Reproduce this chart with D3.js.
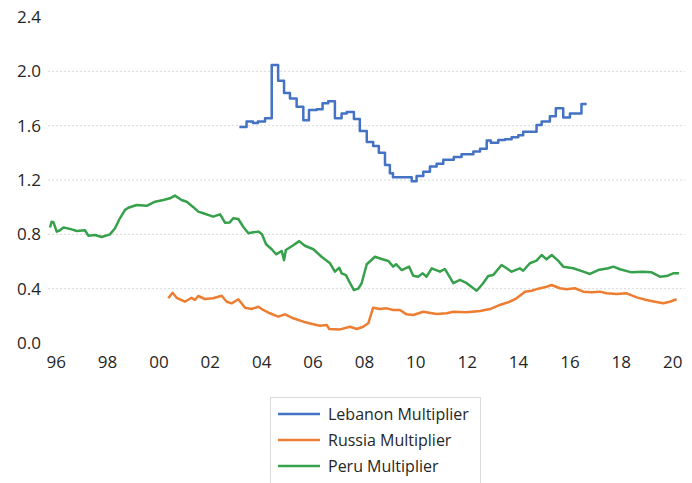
<!DOCTYPE html>
<html>
<head>
<meta charset="utf-8">
<script src="https://cdn.jsdelivr.net/npm/d3@7"></script>
<style>
  body { margin: 0; background: #fff; }
  svg { display: block; font-family: "Open Sans", sans-serif; }
</style>
</head>
<body>
<script>
// series data: [year (decimal), value]
const lebanon = [
  [2003.15, 1.59], [2003.43, 1.63], [2003.68, 1.62], [2003.87, 1.63], [2004.15, 1.655],
  [2004.41, 2.046], [2004.66, 1.93], [2004.89, 1.84], [2005.12, 1.80], [2005.38, 1.74],
  [2005.64, 1.64], [2005.86, 1.715], [2006.16, 1.72], [2006.39, 1.765], [2006.61, 1.78],
  [2006.87, 1.655], [2007.13, 1.69], [2007.33, 1.70], [2007.61, 1.65], [2007.84, 1.56],
  [2008.11, 1.48], [2008.36, 1.45], [2008.58, 1.40], [2008.82, 1.31], [2009.01, 1.25],
  [2009.13, 1.22], [2009.86, 1.19], [2010.05, 1.23], [2010.31, 1.26], [2010.57, 1.30],
  [2010.83, 1.32], [2011.09, 1.35], [2011.5, 1.37], [2011.8, 1.39], [2012.26, 1.41],
  [2012.52, 1.43], [2012.78, 1.49], [2012.94, 1.475], [2013.23, 1.495], [2013.49, 1.50],
  [2013.75, 1.514], [2014.01, 1.53], [2014.2, 1.556], [2014.72, 1.605], [2014.92, 1.63],
  [2015.24, 1.67], [2015.47, 1.728], [2015.76, 1.66], [2016.02, 1.69], [2016.47, 1.76],
  [2016.67, 1.76]
];

const russia = [
  [2000.38, 0.329], [2000.55, 0.37], [2000.71, 0.333], [2001.03, 0.304], [2001.29, 0.333],
  [2001.42, 0.317], [2001.55, 0.346], [2001.81, 0.324], [2002.13, 0.329], [2002.46, 0.348],
  [2002.66, 0.304], [2002.85, 0.292], [2003.11, 0.322], [2003.37, 0.26], [2003.63, 0.25],
  [2003.89, 0.267], [2004.08, 0.243], [2004.34, 0.219], [2004.66, 0.194], [2004.93, 0.211],
  [2005.25, 0.182], [2005.64, 0.157], [2006.03, 0.138], [2006.29, 0.127], [2006.55, 0.133],
  [2006.65, 0.103], [2007.07, 0.10], [2007.46, 0.12], [2007.72, 0.103], [2007.97, 0.12],
  [2008.17, 0.145], [2008.36, 0.26], [2008.62, 0.25], [2008.88, 0.255], [2009.14, 0.243],
  [2009.40, 0.243], [2009.66, 0.211], [2009.92, 0.206], [2010.31, 0.23], [2010.83, 0.213],
  [2011.22, 0.219], [2011.48, 0.23], [2012.00, 0.226], [2012.52, 0.236], [2012.91, 0.25],
  [2013.29, 0.28], [2013.68, 0.304], [2013.94, 0.329], [2014.27, 0.378], [2014.53, 0.385],
  [2014.79, 0.40], [2015.11, 0.414], [2015.31, 0.427], [2015.63, 0.403], [2015.89, 0.395],
  [2016.21, 0.403], [2016.54, 0.378], [2016.86, 0.373], [2017.19, 0.378], [2017.45, 0.366],
  [2017.84, 0.36], [2018.23, 0.366], [2018.62, 0.336], [2019.00, 0.317], [2019.33, 0.304],
  [2019.65, 0.292], [2019.91, 0.304], [2020.17, 0.322]
];

const peru = [
  [1995.78, 0.85], [1995.84, 0.893], [1995.91, 0.89], [1996.04, 0.82], [1996.17, 0.83],
  [1996.30, 0.85], [1996.56, 0.84], [1996.82, 0.825], [1997.14, 0.83], [1997.27, 0.79],
  [1997.53, 0.795], [1997.79, 0.78], [1998.11, 0.80], [1998.31, 0.845], [1998.50, 0.918],
  [1998.70, 0.98], [1998.83, 0.996], [1999.15, 1.016], [1999.54, 1.01], [1999.87, 1.04],
  [2000.19, 1.053], [2000.45, 1.065], [2000.64, 1.085], [2000.90, 1.053], [2001.10, 1.04],
  [2001.36, 1.00], [2001.55, 0.967], [2001.75, 0.955], [2002.13, 0.93], [2002.40, 0.947],
  [2002.59, 0.886], [2002.78, 0.888], [2002.91, 0.918], [2003.11, 0.913], [2003.30, 0.856],
  [2003.50, 0.808], [2003.69, 0.815], [2003.89, 0.82], [2004.03, 0.80], [2004.19, 0.727],
  [2004.41, 0.69], [2004.58, 0.653], [2004.80, 0.677], [2004.89, 0.61], [2004.96, 0.685],
  [2005.25, 0.72], [2005.48, 0.75], [2005.70, 0.716], [2006.03, 0.69], [2006.35, 0.635],
  [2006.68, 0.587], [2006.87, 0.525], [2007.04, 0.554], [2007.13, 0.513], [2007.30, 0.50],
  [2007.46, 0.44], [2007.61, 0.39], [2007.78, 0.40], [2007.91, 0.44], [2008.11, 0.58],
  [2008.43, 0.635], [2008.69, 0.618], [2008.95, 0.604], [2009.14, 0.562], [2009.25, 0.58],
  [2009.47, 0.537], [2009.76, 0.562], [2009.92, 0.495], [2010.11, 0.488], [2010.29, 0.513],
  [2010.44, 0.488], [2010.64, 0.55], [2010.96, 0.525], [2011.15, 0.545], [2011.48, 0.44],
  [2011.74, 0.464], [2012.00, 0.44], [2012.39, 0.385], [2012.64, 0.44], [2012.84, 0.493],
  [2013.03, 0.50], [2013.36, 0.574], [2013.75, 0.525], [2014.07, 0.55], [2014.20, 0.532],
  [2014.46, 0.587], [2014.72, 0.606], [2014.92, 0.648], [2015.11, 0.616], [2015.31, 0.648],
  [2015.56, 0.606], [2015.76, 0.562], [2016.15, 0.55], [2016.54, 0.525], [2016.80, 0.508],
  [2017.12, 0.537], [2017.51, 0.55], [2017.71, 0.562], [2017.97, 0.543], [2018.42, 0.52],
  [2018.87, 0.525], [2019.20, 0.52], [2019.52, 0.488], [2019.78, 0.493], [2020.04, 0.513],
  [2020.27, 0.513]
];

const xTickYears = [1996, 1998, 2000, 2002, 2004, 2006, 2008, 2010, 2012, 2014, 2016, 2018, 2020];
const xTickLabels = ["96", "98", "00", "02", "04", "06", "08", "10", "12", "14", "16", "18", "20"];
const yTicks = [0, 0.4, 0.8, 1.2, 1.6, 2.0, 2.4];
const seriesNames = ["Lebanon Multiplier", "Russia Multiplier", "Peru Multiplier"];
const seriesColors = ["#4472c4", "#ed7d31", "#36a04b"];

const width = 692, height = 483;

const svg = d3.select('body').append('svg')
  .attr('width', width)
  .attr('height', height);

const xScale = d3.scaleLinear()
  .domain([1995.7, 2020.5])
  .range([48, 685]);

const yScale = d3.scaleLinear()
  .domain([0, 2.4])
  .range([343, 17]);

// dotted gridlines (not at 0 or top)
svg.append('g')
  .selectAll('line')
  .data(yTicks.filter(d => d > 0 && d < 2.4))
  .enter()
  .append('line')
  .attr('x1', 48)
  .attr('x2', 685)
  .attr('y1', d => yScale(d))
  .attr('y2', d => yScale(d))
  .attr('stroke', '#d9d9d9')
  .attr('stroke-width', 1)
  .attr('stroke-dasharray', '2,2');

// y axis labels
const yAxis = d3.axisLeft(yScale)
  .tickValues(yTicks)
  .tickFormat(d3.format('.1f'))
  .tickSize(0)
  .tickPadding(0);

svg.append('g')
  .attr('transform', 'translate(41,0)')
  .call(yAxis)
  .call(g => g.select('.domain').remove())
  .selectAll('text')
  .attr('font-size', 17)
  .attr('font-family', '"Open Sans", sans-serif')
  .attr('fill', '#262626');

// x axis labels
const xAxis = d3.axisBottom(xScale)
  .tickValues(xTickYears)
  .tickFormat((d, i) => xTickLabels[i])
  .tickSize(0)
  .tickPadding(0);

svg.append('g')
  .attr('transform', 'translate(0,356)')
  .call(xAxis)
  .call(g => g.select('.domain').remove())
  .selectAll('text')
  .attr('font-size', 17)
  .attr('font-family', '"Open Sans", sans-serif')
  .attr('fill', '#262626');

// lines
const line = d3.line()
  .x(d => xScale(d[0]))
  .y(d => yScale(d[1]));

const stepLine = d3.line()
  .x(d => xScale(d[0]))
  .y(d => yScale(d[1]))
  .curve(d3.curveStepAfter);

svg.append('path')
  .datum(peru)
  .attr('d', line)
  .attr('fill', 'none')
  .attr('stroke', seriesColors[2])
  .attr('stroke-width', 2.5)
  .attr('stroke-linejoin', 'round');

svg.append('path')
  .datum(russia)
  .attr('d', line)
  .attr('fill', 'none')
  .attr('stroke', seriesColors[1])
  .attr('stroke-width', 2.5)
  .attr('stroke-linejoin', 'round');

svg.append('path')
  .datum(lebanon)
  .attr('d', stepLine)
  .attr('fill', 'none')
  .attr('stroke', seriesColors[0])
  .attr('stroke-width', 2.5)
  .attr('stroke-linejoin', 'round');

// legend
const legend = svg.append('g');

legend.append('rect')
  .attr('x', 270.5)
  .attr('y', 397.5)
  .attr('width', 210)
  .attr('height', 100)
  .attr('fill', '#fff')
  .attr('stroke', '#d9d9d9');

const items = legend.selectAll('.item')
  .data(seriesNames)
  .enter()
  .append('g')
  .attr('class', 'item')
  .attr('transform', (d, i) => `translate(0, ${414 + i * 26})`);

items.append('line')
  .attr('x1', 278)
  .attr('x2', 320)
  .attr('stroke', (d, i) => seriesColors[i])
  .attr('stroke-width', 2.5);

items.append('text')
  .attr('x', 328)
  .attr('dy', '0.35em')
  .attr('font-size', 16)
  .attr('fill', '#262626')
  .text(d => d);
</script>
</body>
</html>
